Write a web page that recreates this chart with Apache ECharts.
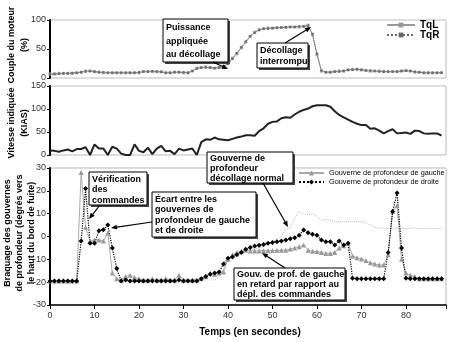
<!DOCTYPE html>
<html><head><meta charset="utf-8">
<script src="https://cdn.jsdelivr.net/npm/echarts@6/dist/echarts.min.js"></script>
<style>html,body{margin:0;padding:0;background:#fff}#c{width:450px;height:342px}</style>
</head><body><div id="c"></div>
<script>
// time in seconds (1 s samples)
var times = [];
for (var i = 0; i <= 88; i++) times.push(i);

// engine torque (%)
var tqL = [7,7,8,8,8,8,9,10,12,12,11,10,9,9,9,9,9,9,9,9,9,11,11,11,11,11,9,9,10,10,9,9,12,17,18,19,18,17,18,20,
  25,34,42,52,62,72,79,83,85,86,86,87,87,87,88,88,88,89,91,75,40,12,10,10,11,12,12,14,15,15,
  14,13,12,12,12,11,11,11,11,12,13,12,10,10,9,9,9,9,9];
var tqR = [6,7,7,8,8,9,9,10,11,12,11,10,10,9,9,9,9,9,9,9,10,11,11,12,11,10,9,9,10,10,10,9,12,16,18,18,18,17,18,19,
  24,33,43,53,63,72,78,83,85,85,86,86,87,88,88,88,89,89,90,76,42,13,10,10,11,11,12,14,14,15,
  14,13,13,12,11,11,11,11,11,12,12,12,11,10,9,9,9,9,9];

// indicated airspeed (KIAS)
var kias = [10,9,7,10,12,8,13,13,17,0,23,14,14,0,18,14,3,0,0,23,9,6,16,2,14,20,8,9,2,14,10,12,14,0,28,34,33,38,34,33,
  32,35,38,40,43,43,42,52,58,68,72,73,80,82,81,88,94,98,101,106,108,108,108,105,95,87,82,77,72,68,
  65,65,57,58,53,47,52,56,47,48,49,46,53,52,47,46,47,47,42];

// elevator deflection (degrees)
var elevL = [-19.5,-19.5,-19.5,-19.5,-19.5,-19.5,-19.5,28,4,-2,-1.5,-1.5,-2,1.5,-16,-18.5,-19,-17.5,-17,-18,
  -18.5,-19,-19,-18.5,-19,-19,-18.5,-19,-19,-17,-19,-19,-19,-19,-18.5,-17.5,-16,-16.5,-16,-15.5,
  -10,-8,-7,-6.5,-6,-6.3,-6.3,-6.3,-6.2,-6.2,-6.1,-6,-6,-6,-5.5,-5,-4.5,-3.7,-6,-6.5,
  -6.6,-7,-7.4,-7.4,-7,-5,-4,-3,-8.5,-9.3,-9.8,-10.5,-11.5,-12,-12.5,-12.5,-8,11,13.5,-10,
  -16,-17,-17.5,-18.5,-18.5,-18.5,-18.5,-18.5,-18.5];
var elevR = [-19.5,-19.5,-19.5,-19.5,-19.5,-19.5,-19.5,-2,21,-3,-3,2.5,3,5,-5,-14,-19.5,-19,-19.5,-19.5,
  -19.5,-19.5,-19.5,-19.5,-19.5,-19.5,-19.5,-19.5,-19.5,-19,-19.5,-19.5,-19.5,-19.5,-18.5,-17.5,-16.5,-16,-15.5,-12,
  -9.5,-9,-8,-7,-5.6,-4.8,-4.2,-3.8,-3.5,-3,-2.6,-2.3,-2,-1.5,-1,-0.5,0.6,2.8,1.6,1,
  0.6,-1.5,-2.3,-2.3,-3.7,-2,-3.7,-3,-18.3,-18.5,-18.5,-18.5,-18.5,-18.5,-18.5,-18.5,-7,11,19,-5,
  -18.3,-18.5,-18.5,-18.5,-18.5,-18.5,-18.5,-18.5,-18.5];
var normTimes = [];
for (var j = 16; j <= 88; j++) normTimes.push(j);
var elevNormal = [-19,-19,-19,-19,-19,-19,-19,-19,-19,-19,-19,-19,-19,-19,-19,-19,-19,-19,-19,-19,-19,-19,-18,-14,
  -10,-8,-7,-6.5,-6.5,-6,-5.5,-5,-4,-3,-2,-1,0,3,4,8,11,10,9.5,10,9,7,7.5,7,6.5,6.5,6.5,6.5,6.5,6.5,6.5,6,5,4,
  3.8,3.6,3.5,3.5,3.6,3.5,3.5,3.6,3.8,3.5,3.5,3.6,3.5,3.5,3.5];

var xTicks = [0,10,20,30,40,50,60,70,80];
var ticksTop = [0,50,100], ticksMid = [0,50,100,150], ticksBot = [-30,-20,-10,0,10,20,30];

function pairs(t, v){ return t.map(function(x,i){ return [x, v[i]]; }); }

var FONT = 'Liberation Sans, Arial, sans-serif';
var chart = echarts.init(document.getElementById('c'), null, {renderer:'canvas'});

function yAx(idx, min, max, interval){
  return {gridIndex: idx, type:'value', min:min, max:max, interval:interval,
    axisLine:{show:true, onZero:false, lineStyle:{color:'#000', width:2}},
    axisTick:{show:true, length:3, lineStyle:{color:'#000'}},
    axisLabel:{fontSize:9, color:'#333', margin:4, fontFamily:FONT},
    splitLine:{show:false}};
}
function xAx(idx, show){
  return {gridIndex: idx, type:'value', min:0, max:89, interval:10, show:show,
    axisLine:{show:true, onZero:false, lineStyle:{color:'#000', width:1.5}},
    axisTick:{show:true, length:4, lineStyle:{color:'#000'}},
    axisLabel:{fontSize:9, color:'#333', margin:6, fontFamily:FONT,
      formatter:function(v){ return xTicks.indexOf(v) >= 0 ? String(v) : ''; }},
    splitLine:{show:false}};
}

function box(x, y, w, h, text, lh){
  return [
    {type:'rect', shape:{x:x+2, y:y+2, width:w, height:h}, style:{fill:'#444'}, z:100},
    {type:'rect', shape:{x:x, y:y, width:w, height:h}, style:{fill:'#fff', stroke:'#000', lineWidth:1}, z:101},
    {type:'text', x:x+3, y:y+2, z:102, style:{text:text, fontSize:9, fontWeight:'bold', fontFamily:FONT,
      fill:'#000', lineHeight:lh, align:'left', verticalAlign:'top'}}
  ];
}
function arrow(x1, y1, x2, y2){
  var a = Math.atan2(y2-y1, x2-x1), L = 6, W = 2.5;
  var bx = x2 - L*Math.cos(a), by = y2 - L*Math.sin(a);
  return [
    {type:'line', shape:{x1:x1, y1:y1, x2:bx, y2:by}, style:{stroke:'#000', lineWidth:1.2}, z:103},
    {type:'polygon', shape:{points:[[x2,y2],[bx - W*Math.sin(a), by + W*Math.cos(a)],[bx + W*Math.sin(a), by - W*Math.cos(a)]]},
      style:{fill:'#000'}, z:103}
  ];
}
function vtext(x, y, t, fs){
  return {type:'text', x:x, y:y, rotation:Math.PI/2, z:50,
    style:{text:t, fontSize:fs||9, fontWeight:'bold', fontFamily:FONT, fill:'#000', align:'center', verticalAlign:'middle'}};
}

var graphics = [].concat(
  [vtext(12, 45, 'Couple du moteur'), vtext(25, 45, '(%)'),
   vtext(12, 123, 'Vitesse indiquée'), vtext(25, 123, '(KIAS)'),
   vtext(8, 233, 'Braquage des gouvernes'), vtext(20, 233, 'de profondeur (degrés vers'),
   vtext(32, 233, 'le haut du bord de fuite)'),
   {type:'text', x:250, y:332, style:{text:'Temps (en secondes)', fontSize:10, fontWeight:'bold', fontFamily:FONT,
     fill:'#000', align:'center', verticalAlign:'middle'}}],
  box(163, 19, 65, 43, 'Puissance\nappliquée\nau décollage', 13.5), arrow(213, 62, 228, 69),
  box(257, 43, 51, 25, 'Décollage\ninterrompu', 11), arrow(285, 43, 311, 27),
  box(207, 152, 86, 31, 'Gouverne de\nprofondeur\ndécollage normal', 10), arrow(263, 183, 288, 227),
  box(89, 172, 58, 33, 'Vérification\ndes\ncommandes', 10.5), arrow(100, 205, 89, 219),
  box(152, 192, 104, 45, 'Écart entre les\ngouvernes de\nprofondeur de gauche\net de droite', 10.5), arrow(152, 222, 111, 228),
  box(234, 268, 111, 32, 'Gouv. de prof. de gauche\nen retard par rapport au\ndépl. des commandes', 10), arrow(285, 268, 262, 253)
);

chart.setOption({
  animation:false,
  textStyle:{fontFamily:FONT},
  grid:[
    {left:50, top:20, width:396, height:58, show:true, borderColor:'#bbb', borderWidth:1, backgroundColor:'#fff'},
    {left:50, top:86, width:396, height:69, show:true, borderColor:'#bbb', borderWidth:1},
    {left:50, top:168, width:396, height:137, show:true, borderColor:'#bbb', borderWidth:1}
  ],
  xAxis:[xAx(0,false), xAx(1,false), xAx(2,true)],
  yAxis:[yAx(0,0,100,50), yAx(1,0,150,50), yAx(2,-30,30,10)],
  legend:[
    {data:['TqL','TqR'], orient:'vertical', left:386, top:20, padding:0, itemWidth:28, itemHeight:6, itemGap:0,
     textStyle:{fontSize:10, fontWeight:'bold', color:'#000', fontFamily:FONT, lineHeight:10}},
    {data:['Gouverne de profondeur de gauche','Gouverne de profondeur de droite'], orient:'vertical', left:298, top:169,
     padding:0, itemWidth:25, itemHeight:6, itemGap:1, textStyle:{fontSize:7.3, color:'#000', fontFamily:FONT, lineHeight:8}}
  ],
  series:[
    {name:'TqL', type:'line', xAxisIndex:0, yAxisIndex:0, data:pairs(times,tqL), symbol:'rect', symbolSize:3,
     itemStyle:{color:'#999'}, lineStyle:{color:'#999', width:1}},
    {name:'TqR', type:'line', xAxisIndex:0, yAxisIndex:0, data:pairs(times,tqR), symbol:'rect', symbolSize:2,
     itemStyle:{color:'#666'}, lineStyle:{color:'#666', width:1, type:'dotted'}},
    {name:'KIAS', type:'line', xAxisIndex:1, yAxisIndex:1, data:pairs(times,kias), symbol:'none',
     lineStyle:{color:'#222', width:2}},
    {name:'Normal', type:'line', xAxisIndex:2, yAxisIndex:2, data:pairs(normTimes,elevNormal), symbol:'none',
     lineStyle:{color:'#bbb', width:1, type:'dotted'}},
    {name:'Gouverne de profondeur de gauche', type:'line', xAxisIndex:2, yAxisIndex:2, data:pairs(times,elevL),
     symbol:'triangle', symbolSize:5, itemStyle:{color:'#999'}, lineStyle:{color:'#aaa', width:1}},
    {name:'Gouverne de profondeur de droite', type:'line', xAxisIndex:2, yAxisIndex:2, data:pairs(times,elevR),
     symbol:'diamond', symbolSize:5, itemStyle:{color:'#000'}, lineStyle:{color:'#000', width:1.2, type:'dotted'}}
  ],
  graphic:graphics
});
</script></body></html>
